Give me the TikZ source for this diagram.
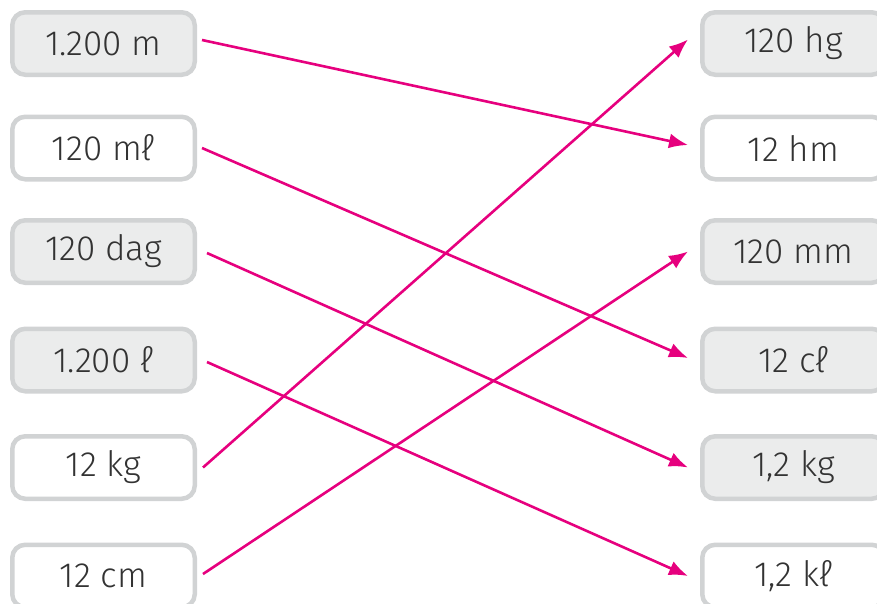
\documentclass[tikz,border=0pt]{standalone}
\usepackage{fontspec}
\setmainfont{Fira Sans}[UprightFont={* Light}]
\usepackage{xcolor}
\usepackage{tikz}
\usetikzlibrary{arrows.meta, positioning}

\definecolor{pinkline}{HTML}{E6007E}
\definecolor{boxborder}{HTML}{D1D3D4}
\definecolor{boxfill}{HTML}{EBECEC}
\definecolor{boxtext}{HTML}{333333}

\begin{document}
\begin{tikzpicture}[x=1pt, y=-1pt,
  unitbox/.style={draw=boxborder, line width=4.5pt, rounded corners=13pt,
    minimum width=182.5pt, minimum height=62.5pt, inner sep=0pt,
    text=boxtext, font=\fontsize{35}{40}\selectfont},
  greybox/.style={unitbox, fill=boxfill},
  whitebox/.style={unitbox, fill=white},
  connector/.style={pinkline, line width=2.6pt, -{Latex[length=19pt,width=15pt]}}]
  \useasboundingbox (0,0) rectangle (877,603);
  \clip (0,0) rectangle (877,603);

  % Left column
  \node[greybox]  (l1) at (103.5,43.5) {1.200 m};
  \node[whitebox] (l2) at (103.5,148)  {120 mℓ};
  \node[greybox]  (l3) at (103.5,251.5) {120 dag};
  \node[greybox]  (l4) at (103.5,360)  {1.200 ℓ};
  \node[whitebox] (l5) at (103.5,467.5) {12 kg};
  \node[whitebox] (l6) at (103.5,576)  {12 cm};

  % Right column
  \node[greybox]  (r1) at (793.5,43.5) {120 hg};
  \node[whitebox] (r2) at (793.5,148)  {12 hm};
  \node[greybox]  (r3) at (793.5,251.5) {120 mm};
  \node[greybox]  (r4) at (793.5,360)  {12 cℓ};
  \node[greybox]  (r5) at (793.5,467.5) {1,2 kg};
  \node[whitebox] (r6) at (793.5,576)  {1,2 kℓ};

  % Connectors
  \draw[connector] ([xshift=5pt,yshift=3.5pt]l1.east) -- ([xshift=-12pt,yshift=3pt]r2.west);
  \draw[connector] ([xshift=5pt]l2.east) -- ([xshift=-12pt,yshift=2pt]r4.west);
  \draw[connector] ([xshift=10pt,yshift=-1.5pt]l3.east) -- ([xshift=-12pt]r5.west);
  \draw[connector] ([xshift=10pt,yshift=-2pt]l4.east) -- ([xshift=-12pt]r6.west);
  \draw[connector] ([xshift=6pt]l5.east) -- ([xshift=-12pt,yshift=4pt]r1.west);
  \draw[connector] ([xshift=6pt,yshift=2pt]l6.east) -- ([xshift=-12pt]r3.west);
\end{tikzpicture}
\end{document}
